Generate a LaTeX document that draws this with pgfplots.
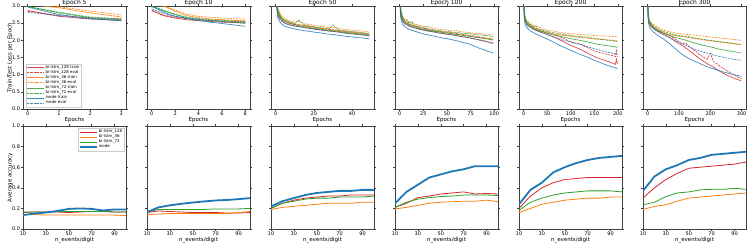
\documentclass[border=0pt]{standalone}
\usepackage{pgfplots}
\pgfplotsset{compat=1.18}
\usepackage{pgfplotstable}
\usepackage{fontspec}
\setmainfont{DejaVu Sans}
\definecolor{cred}{HTML}{D62728}
\definecolor{corange}{HTML}{FF7F0E}
\definecolor{cgreen}{HTML}{2CA02C}
\definecolor{cblue}{HTML}{1F77B4}

% ---------- loss tables: x, bi-lstm_128 (r), bi-lstm_36 (o), bi-lstm_72 (g), inode (b); t=train e=eval
\pgfplotstableread{
x rt re ot oe gt ge bt be
0 2.87 2.85 3.05 3.08 2.99 2.98 2.97 2.82
1 2.70 2.72 2.95 2.98 2.80 2.82 2.75 2.72
2 2.62 2.66 2.80 2.85 2.66 2.68 2.63 2.64
3 2.58 2.63 2.68 2.74 2.60 2.62 2.57 2.58
}\tA
\pgfplotstableread{
x rt re ot oe gt ge bt be
0 2.88 2.86 3.05 3.08 3.00 2.98 3.00 2.92
1 2.72 2.74 3.00 3.02 2.88 2.86 2.82 2.78
2 2.65 2.67 2.85 2.88 2.75 2.76 2.70 2.70
3 2.60 2.63 2.72 2.76 2.66 2.68 2.63 2.65
4 2.57 2.60 2.66 2.70 2.61 2.63 2.58 2.61
5 2.55 2.58 2.62 2.67 2.57 2.60 2.53 2.58
6 2.53 2.56 2.60 2.65 2.55 2.58 2.49 2.55
7 2.52 2.55 2.58 2.63 2.53 2.56 2.45 2.52
8 2.50 2.54 2.57 2.62 2.52 2.55 2.41 2.50
}\tB
\pgfplotstableread{
x rt re ot oe gt ge bt be
0 3.40 3.30 3.60 3.55 3.50 3.45 3.30 3.20
1 2.80 2.82 2.95 2.98 2.88 2.90 2.68 2.75
2 2.66 2.70 2.78 2.82 2.72 2.75 2.55 2.63
3 2.58 2.62 2.68 2.72 2.64 2.66 2.48 2.56
4 2.53 2.57 2.62 2.66 2.58 2.61 2.44 2.52
5 2.50 2.54 2.58 2.62 2.55 2.58 2.41 2.49
7 2.46 2.50 2.53 2.57 2.50 2.54 2.37 2.45
10 2.42 2.46 2.48 2.53 2.45 2.49 2.33 2.41
12 2.40 2.45 2.46 2.55 2.43 2.60 2.31 2.40
15 2.37 2.42 2.43 2.48 2.40 2.45 2.28 2.37
18 2.35 2.40 2.40 2.46 2.37 2.42 2.26 2.35
20 2.33 2.38 2.38 2.44 2.35 2.40 2.24 2.33
23 2.31 2.35 2.35 2.41 2.33 2.37 2.22 2.30
25 2.29 2.34 2.34 2.40 2.31 2.36 2.20 2.29
28 2.27 2.32 2.31 2.37 2.29 2.33 2.18 2.27
30 2.26 2.31 2.30 2.38 2.28 2.45 2.17 2.26
33 2.24 2.28 2.28 2.34 2.26 2.30 2.15 2.24
35 2.22 2.27 2.26 2.33 2.24 2.29 2.13 2.22
38 2.20 2.25 2.24 2.31 2.22 2.27 2.11 2.20
40 2.19 2.24 2.23 2.30 2.21 2.26 2.10 2.19
43 2.17 2.22 2.21 2.28 2.19 2.24 2.08 2.17
45 2.16 2.21 2.20 2.27 2.18 2.23 2.07 2.16
47 2.15 2.20 2.18 2.26 2.16 2.21 2.06 2.15
49 2.13 2.18 2.17 2.24 2.15 2.20 2.04 2.13
}\tC
\pgfplotstableread{
x rt re ot oe gt ge bt be
0 3.40 3.30 3.60 3.55 3.50 3.45 3.30 3.20
1 2.80 2.82 2.95 2.98 2.88 2.90 2.68 2.75
2 2.66 2.70 2.78 2.82 2.72 2.75 2.55 2.63
3 2.58 2.62 2.68 2.72 2.64 2.66 2.48 2.56
5 2.50 2.54 2.58 2.62 2.55 2.58 2.41 2.49
8 2.45 2.49 2.51 2.56 2.48 2.60 2.35 2.44
10 2.42 2.46 2.48 2.53 2.45 2.49 2.32 2.41
13 2.39 2.44 2.45 2.50 2.42 2.55 2.29 2.38
15 2.37 2.42 2.43 2.48 2.40 2.45 2.27 2.37
18 2.35 2.40 2.40 2.46 2.37 2.42 2.25 2.35
20 2.33 2.38 2.38 2.44 2.35 2.40 2.23 2.33
25 2.30 2.35 2.34 2.41 2.32 2.38 2.19 2.30
30 2.27 2.32 2.31 2.40 2.29 2.34 2.16 2.27
35 2.25 2.29 2.28 2.35 2.27 2.31 2.13 2.25
40 2.22 2.27 2.26 2.33 2.25 2.29 2.10 2.22
45 2.20 2.25 2.24 2.31 2.23 2.27 2.07 2.20
50 2.18 2.24 2.22 2.30 2.21 2.26 2.05 2.18
55 2.16 2.22 2.20 2.28 2.19 2.24 2.02 2.16
60 2.14 2.20 2.18 2.28 2.17 2.23 1.99 2.14
65 2.11 2.18 2.16 2.25 2.15 2.21 1.95 2.11
70 2.09 2.16 2.14 2.24 2.13 2.20 1.92 2.09
75 2.07 2.14 2.12 2.22 2.11 2.19 1.88 2.06
80 2.04 2.12 2.10 2.20 2.09 2.17 1.82 2.03
85 2.01 2.10 2.08 2.21 2.07 2.16 1.76 2.00
90 1.98 2.07 2.07 2.17 2.05 2.14 1.72 1.97
93 1.96 2.05 2.06 2.18 2.04 2.13 1.68 1.95
96 1.94 2.03 2.05 2.16 2.02 2.12 1.66 1.92
99 1.92 2.01 2.04 2.15 2.01 2.11 1.62 1.90
}\tD
\pgfplotstableread{
x rt re ot oe gt ge bt be
0 3.40 3.30 3.60 3.55 3.50 3.45 3.30 3.20
1 2.80 2.82 2.95 2.98 2.88 2.90 2.68 2.75
2 2.66 2.70 2.78 2.82 2.72 2.75 2.55 2.63
3 2.58 2.62 2.68 2.72 2.64 2.66 2.48 2.56
5 2.50 2.54 2.58 2.62 2.55 2.58 2.41 2.49
7 2.46 2.50 2.53 2.57 2.50 2.54 2.37 2.45
10 2.42 2.46 2.48 2.53 2.45 2.52 2.32 2.41
15 2.37 2.42 2.43 2.48 2.40 2.45 2.27 2.37
20 2.33 2.38 2.38 2.44 2.35 2.40 2.23 2.33
25 2.30 2.35 2.34 2.41 2.32 2.42 2.19 2.30
30 2.27 2.32 2.31 2.40 2.29 2.34 2.16 2.27
40 2.22 2.27 2.26 2.33 2.25 2.29 2.10 2.22
50 2.17 2.23 2.22 2.30 2.21 2.26 2.04 2.17
60 2.12 2.19 2.19 2.28 2.17 2.23 1.97 2.12
70 2.06 2.14 2.17 2.25 2.14 2.21 1.90 2.07
80 1.99 2.08 2.15 2.22 2.11 2.18 1.83 2.02
90 1.92 2.02 2.14 2.21 2.08 2.16 1.77 1.98
100 1.85 1.96 2.12 2.19 2.05 2.14 1.71 1.95
110 1.80 1.92 2.10 2.18 2.02 2.12 1.65 1.91
120 1.74 1.90 2.09 2.17 2.00 2.11 1.59 1.88
130 1.67 1.82 2.07 2.16 1.97 2.10 1.54 1.84
140 1.60 1.76 2.06 2.15 1.94 2.08 1.48 1.80
150 1.53 1.70 2.04 2.14 1.91 2.06 1.42 1.76
160 1.47 1.65 2.03 2.13 1.88 2.04 1.37 1.72
170 1.43 1.62 2.02 2.13 1.86 2.02 1.31 1.68
180 1.38 1.58 2.01 2.12 1.84 2.00 1.26 1.65
190 1.33 1.55 2.00 2.11 1.82 1.98 1.22 1.62
195 1.30 1.53 1.99 2.11 1.81 1.97 1.20 1.61
197 1.45 1.70 1.99 2.10 1.80 1.97 1.19 1.60
199 1.32 1.52 1.98 2.10 1.80 1.96 1.17 1.60
}\tE
\pgfplotstableread{
x rt re ot oe gt ge bt be
0 3.40 3.30 3.60 3.55 3.50 3.45 3.30 3.20
1 2.80 2.82 2.95 2.98 2.88 2.90 2.68 2.75
2 2.66 2.70 2.78 2.82 2.72 2.75 2.55 2.63
3 2.58 2.62 2.68 2.72 2.64 2.66 2.48 2.56
5 2.50 2.54 2.58 2.62 2.55 2.58 2.41 2.49
7 2.46 2.50 2.53 2.57 2.50 2.54 2.37 2.45
10 2.42 2.46 2.48 2.53 2.45 2.52 2.32 2.41
15 2.37 2.42 2.43 2.48 2.40 2.45 2.27 2.37
20 2.33 2.38 2.38 2.44 2.35 2.40 2.23 2.33
30 2.27 2.32 2.31 2.40 2.29 2.36 2.16 2.27
40 2.22 2.27 2.26 2.34 2.25 2.29 2.10 2.22
50 2.17 2.23 2.22 2.30 2.21 2.26 2.04 2.17
60 2.13 2.19 2.19 2.27 2.17 2.23 1.97 2.12
70 2.08 2.14 2.17 2.25 2.14 2.21 1.90 2.08
80 2.02 2.08 2.15 2.23 2.11 2.18 1.82 2.03
90 1.96 2.02 2.14 2.21 2.08 2.16 1.74 1.98
100 1.90 1.96 2.12 2.20 2.06 2.14 1.66 1.94
110 1.85 1.90 2.11 2.19 2.03 2.13 1.59 1.90
120 1.79 1.93 2.10 2.18 2.01 2.12 1.53 1.86
130 1.72 1.84 2.08 2.17 1.98 2.11 1.48 1.82
140 1.65 1.77 2.07 2.16 1.95 2.09 1.43 1.78
150 1.58 1.70 2.05 2.15 1.92 2.07 1.39 1.74
160 1.51 1.63 2.04 2.14 1.90 2.06 1.35 1.71
170 1.44 1.56 2.03 2.13 1.87 2.04 1.31 1.68
180 1.38 1.50 2.01 2.12 1.85 2.03 1.27 1.65
190 1.32 1.45 2.00 2.11 1.83 2.01 1.23 1.62
200 1.27 1.62 1.99 2.10 1.81 2.00 1.20 1.62
210 1.22 1.38 1.98 2.09 1.79 1.99 1.17 1.57
220 1.16 1.32 1.96 2.08 1.76 1.97 1.14 1.55
230 1.10 1.25 1.95 2.07 1.74 1.96 1.11 1.53
240 1.05 1.19 1.94 2.06 1.72 1.95 1.08 1.51
250 1.00 1.13 1.93 2.05 1.71 1.94 1.06 1.49
260 0.96 1.08 1.92 2.04 1.69 1.93 1.03 1.48
270 0.92 1.02 1.90 2.03 1.68 1.92 1.01 1.46
280 0.88 0.97 1.89 2.02 1.66 1.90 0.99 1.44
290 0.85 0.92 1.88 2.01 1.65 1.89 0.97 1.43
299 0.82 0.88 1.87 2.00 1.65 1.88 0.95 1.42
}\tF

% ---------- accuracy tables
\pgfplotstableread{
x r o g b
10 0.160 0.140 0.165 0.135
20 0.165 0.140 0.165 0.150
30 0.165 0.135 0.165 0.160
40 0.165 0.135 0.170 0.175
50 0.160 0.135 0.170 0.195
60 0.165 0.135 0.170 0.200
70 0.170 0.135 0.170 0.195
80 0.170 0.135 0.170 0.180
90 0.165 0.135 0.165 0.190
100 0.165 0.130 0.165 0.190
}\aA
\pgfplotstableread{
x r o g b
10 0.160 0.140 0.165 0.164
20 0.175 0.145 0.190 0.210
30 0.170 0.150 0.190 0.230
40 0.165 0.150 0.190 0.245
50 0.160 0.150 0.190 0.257
60 0.160 0.150 0.190 0.268
70 0.160 0.150 0.195 0.277
80 0.155 0.150 0.195 0.282
90 0.155 0.160 0.195 0.290
100 0.160 0.170 0.200 0.300
}\aB
\pgfplotstableread{
x r o g b
10 0.200 0.190 0.200 0.220
20 0.250 0.210 0.250 0.270
30 0.280 0.220 0.270 0.300
40 0.300 0.230 0.290 0.330
50 0.310 0.240 0.300 0.350
60 0.320 0.250 0.300 0.360
70 0.320 0.250 0.310 0.370
80 0.330 0.250 0.310 0.370
90 0.330 0.260 0.310 0.380
100 0.330 0.260 0.320 0.380
}\aC
\pgfplotstableread{
x r o g b
10 0.210 0.195 0.210 0.250
20 0.250 0.210 0.260 0.360
30 0.305 0.230 0.290 0.430
40 0.320 0.250 0.305 0.500
50 0.340 0.260 0.315 0.530
60 0.350 0.265 0.320 0.560
70 0.360 0.270 0.330 0.580
80 0.340 0.270 0.330 0.610
90 0.345 0.280 0.330 0.610
100 0.340 0.265 0.325 0.610
}\aD
\pgfplotstableread{
x r o g b
10 0.200 0.160 0.180 0.240
20 0.320 0.200 0.260 0.380
30 0.400 0.240 0.300 0.450
40 0.450 0.260 0.330 0.550
50 0.480 0.280 0.350 0.600
60 0.490 0.290 0.360 0.640
70 0.500 0.300 0.370 0.670
80 0.500 0.300 0.370 0.690
90 0.500 0.310 0.370 0.700
100 0.500 0.310 0.360 0.710
}\aE
\pgfplotstableread{
x r o g b
10 0.300 0.190 0.235 0.370
20 0.400 0.220 0.260 0.510
30 0.480 0.235 0.315 0.580
40 0.540 0.270 0.350 0.620
50 0.590 0.300 0.360 0.670
60 0.600 0.310 0.380 0.690
70 0.610 0.320 0.385 0.720
80 0.620 0.330 0.385 0.730
90 0.630 0.340 0.395 0.740
100 0.650 0.350 0.385 0.750
}\aF

\pgfplotsset{
  base/.style={
    width=103pt, height=103pt, scale only axis,
    axis line style={black!75, line width=0.5pt},
    tick align=outside, major tick length=1.8pt,
    tick style={black!75, line width=0.4pt},
    ticklabel style={font=\fontsize{5}{6}\selectfont, inner sep=1pt},
    label style={font=\fontsize{5.5}{6.5}\selectfont},
    title style={font=\fontsize{6}{7}\selectfont, at={(0.5,1)}, anchor=south, yshift=-7.3pt, inner sep=1pt},
    /pgf/number format/assume math mode=true,
    xlabel style={inner sep=0.5pt, yshift=0pt},
    ylabel style={inner sep=0pt, yshift=-2pt},
    legend cell align=left,
  },
  toprow/.style={base, ymin=0, ymax=3, ytick={0,0.5,...,3},
    yticklabel style={/pgf/number format/.cd, fixed, fixed zerofill, precision=1},
    xlabel=Epochs},
  botrow/.style={base, xmin=10, xmax=100, xtick={10,30,50,70,90},
    ymin=0, ymax=1, ytick={0,0.2,...,1},
    yticklabel style={/pgf/number format/.cd, fixed, fixed zerofill, precision=1},
    xlabel={n\_events/digit}},
  noy/.style={yticklabels={}},
  trn/.style={line width=0.7pt, opacity=0.85},
  evl/.style={line width=0.7pt, opacity=0.85, dash pattern=on 2.2pt off 1pt},
  acc/.style={line width=0.8pt},
}
\newcommand{\lossplots}[1]{%
  \addplot[cred,trn] table[x=x,y=rt]{#1};
  \addplot[cred,evl] table[x=x,y=re]{#1};
  \addplot[corange,trn] table[x=x,y=ot]{#1};
  \addplot[corange,evl] table[x=x,y=oe]{#1};
  \addplot[cgreen,trn] table[x=x,y=gt]{#1};
  \addplot[cgreen,evl] table[x=x,y=ge]{#1};
  \addplot[cblue,trn] table[x=x,y=bt]{#1};
  \addplot[cblue,evl] table[x=x,y=be]{#1};
}
\newcommand{\accplots}[1]{%
  \addplot[cred,acc] table[x=x,y=r]{#1};
  \addplot[corange,acc] table[x=x,y=o]{#1};
  \addplot[cgreen,acc] table[x=x,y=g]{#1};
  \addplot[cblue,line width=1.8pt] table[x=x,y=b]{#1};
}

\begin{document}
\begin{tikzpicture}
\useasboundingbox (0pt,0pt) rectangle (747pt,242pt);
% ---------------- top row
\begin{axis}[toprow, at={(23pt,133pt)}, anchor=south west, title={Epoch 5},
  xmin=-0.15, xmax=3.15, xtick={0,1,2,3},
  ylabel={Train/Test Loss per Epoch},
  legend style={at={(0.03,0.02)}, anchor=south west, font=\fontsize{4}{4.4}\selectfont,
    draw=black!20, fill=white, fill opacity=0.8, text opacity=1, inner sep=0.6pt,
    row sep=-1.3pt, nodes={inner sep=0.9pt}},
  legend entries={bi-lstm\_128 train, bi-lstm\_128 eval, bi-lstm\_36 train, bi-lstm\_36 eval,
    bi-lstm\_72 train, bi-lstm\_72 eval, inode train, inode eval}]
\lossplots{\tA}
\end{axis}
\begin{axis}[toprow, noy, at={(147pt,133pt)}, anchor=south west, title={Epoch 10},
  xmin=-0.4, xmax=8.4, xtick={0,2,4,6,8}]
\lossplots{\tB}
\end{axis}
\begin{axis}[toprow, noy, at={(271pt,133pt)}, anchor=south west, title={Epoch 50},
  xmin=-2.45, xmax=51.45, xtick={0,20,40}]
\lossplots{\tC}
\end{axis}
\begin{axis}[toprow, noy, at={(395pt,133pt)}, anchor=south west, title={Epoch 100},
  xmin=-4.95, xmax=103.95, xtick={0,25,50,75,100}]
\lossplots{\tD}
\end{axis}
\begin{axis}[toprow, noy, at={(519pt,133pt)}, anchor=south west, title={Epoch 200},
  xmin=-9.95, xmax=208.95, xtick={0,50,100,150,200}]
\lossplots{\tE}
\end{axis}
\begin{axis}[toprow, noy, at={(643pt,133pt)}, anchor=south west, title={Epoch 300},
  xmin=-14.95, xmax=313.95, xtick={0,100,200,300}]
\lossplots{\tF}
\end{axis}
% ---------------- bottom row
\begin{axis}[botrow, at={(23pt,13pt)}, anchor=south west,
  ylabel={Average accuracy},
  legend style={at={(0.98,0.98)}, anchor=north east, font=\fontsize{4}{4.4}\selectfont,
    draw=black!20, fill=white, fill opacity=0.8, text opacity=1, inner sep=0.6pt,
    row sep=-1.3pt, nodes={inner sep=0.9pt}},
  legend entries={bi-lstm\_128, bi-lstm\_36, bi-lstm\_72, inode}]
\accplots{\aA}
\end{axis}
\begin{axis}[botrow, noy, at={(147pt,13pt)}, anchor=south west]
\accplots{\aB}
\end{axis}
\begin{axis}[botrow, noy, at={(271pt,13pt)}, anchor=south west]
\accplots{\aC}
\end{axis}
\begin{axis}[botrow, noy, at={(395pt,13pt)}, anchor=south west]
\accplots{\aD}
\end{axis}
\begin{axis}[botrow, noy, at={(519pt,13pt)}, anchor=south west]
\accplots{\aE}
\end{axis}
\begin{axis}[botrow, noy, at={(643pt,13pt)}, anchor=south west]
\accplots{\aF}
\end{axis}
\end{tikzpicture}
\end{document}
